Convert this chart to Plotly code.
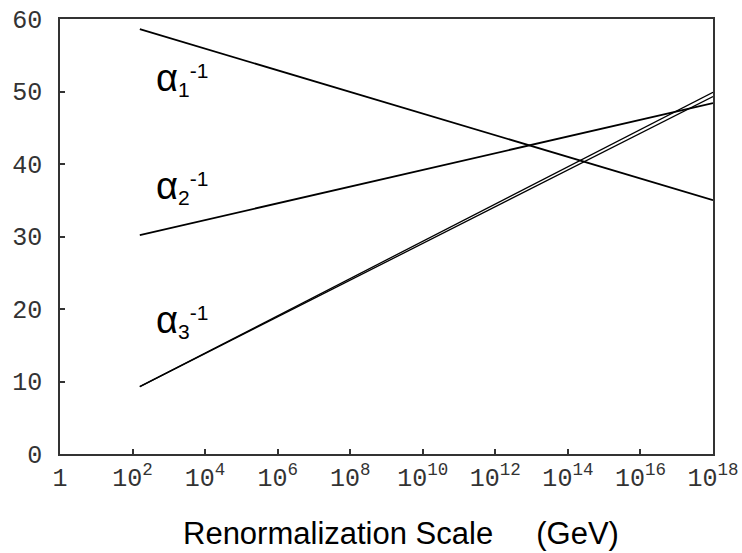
import plotly.graph_objects as go

# Renormalization scale (GeV) at the ends of each running line
mu = [10**2.2, 1e18]

# Inverse gauge couplings at those scales
alpha1_inv = [58.6, 35.0]
alpha2_inv = [30.2, 48.4]
alpha3_inv_a = [9.3, 49.3]
alpha3_inv_b = [9.3, 49.9]

# Axis ticks
x_tickvals = [1] + [10**k for k in range(2, 19, 2)]
x_ticktext = ["1"] + ["10<sup>%d</sup>" % k for k in range(2, 19, 2)]
y_tickvals = [0, 10, 20, 30, 40, 50, 60]

# Curve labels: subscript, log10 of scale, coupling value at the label's bottom
label_names = ["1", "2", "3"]
label_x = [2.62, 2.62, 2.62]
label_y = [48.6, 33.7, 15.2]

fig = go.Figure()
for ys, w in [(alpha1_inv, 1.8), (alpha2_inv, 1.8), (alpha3_inv_a, 1.3), (alpha3_inv_b, 1.3)]:
    fig.add_trace(go.Scatter(x=mu, y=ys, mode="lines",
                             line=dict(color="black", width=w),
                             showlegend=False, hoverinfo="skip"))

for name, xv, yv in zip(label_names, label_x, label_y):
    fig.add_annotation(
        x=xv, y=yv, xref="x", yref="y",
        text='<span style="font-size:38px">α</span><sub>%s</sub><sup>-1</sup>' % name,
        showarrow=False, xanchor="left", yanchor="bottom", borderpad=0,
        font=dict(family="Liberation Sans, Arial", size=30, color="black"))

fig.add_annotation(
    x=0.5224, y=-0.182, xref="paper", yref="paper",
    text="Renormalization Scale" + "\u00a0" * 5 + "(GeV)",
    showarrow=False, xanchor="center", yanchor="middle",
    font=dict(family="Liberation Sans, Arial", size=31, color="black"))

tickfont = dict(family="Liberation Mono, Courier New, monospace", size=25, color="#333")

fig.update_layout(
    width=742, height=553,
    margin=dict(l=60, r=29, t=19, b=99, autoexpand=False),
    paper_bgcolor="white", plot_bgcolor="white",
    xaxis=dict(type="log", range=[0, 18], tickvals=x_tickvals, ticktext=x_ticktext,
               ticks="inside", ticklen=5, tickwidth=1.5, tickcolor="#333",
               showline=True, linecolor="#333", linewidth=1.5, mirror=True,
               showgrid=False, zeroline=False, tickfont=tickfont, automargin=False),
    yaxis=dict(range=[0, 60], tickvals=y_tickvals,
               ticks="inside", ticklen=5, tickwidth=1.5, tickcolor="#333",
               showline=True, linecolor="#333", linewidth=1.5, mirror=True,
               showgrid=False, zeroline=False, tickfont=tickfont,
               ticklabelstandoff=11, automargin=False),
)

fig.write_html("out.html")
